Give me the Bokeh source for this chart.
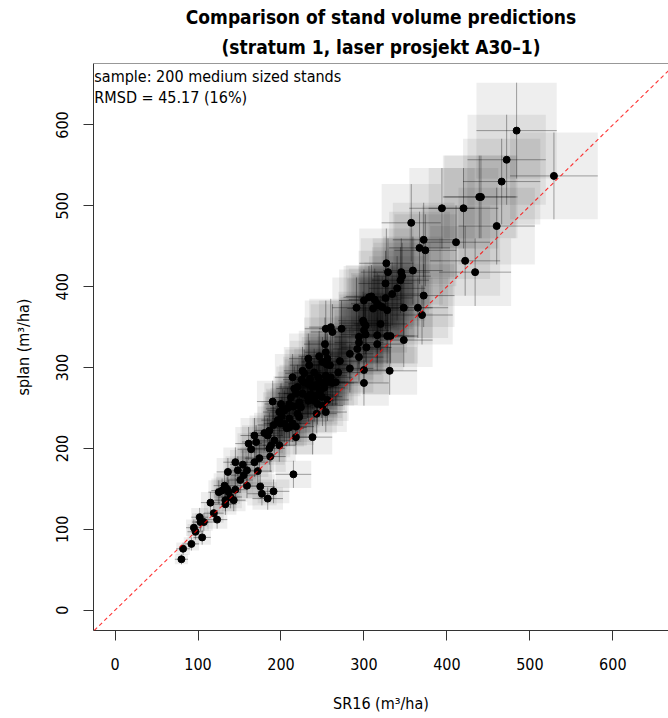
import numpy as np
from bokeh.plotting import figure
from bokeh.models import Range1d, FixedTicker, Slope, Label, Span, Title
from bokeh.embed import file_html
from bokeh.resources import INLINE

# SR16 volume (m3/ha) and splan volume (m3/ha) per stand
sr16 = [484, 529, 472, 466, 439, 441, 394, 420, 357, 460, 411, 372, 367, 374, 422, 434, 359, 327, 329, 345,
        344, 346, 326, 340, 334, 326, 372, 348, 365, 322,
        300, 306, 309, 291, 311, 318, 328, 370, 299, 300, 320, 260, 254, 273,
        313, 316, 302, 300, 262, 294, 302, 316, 328, 332, 348, 294, 292, 303, 316, 283, 294, 253, 246, 254,
        256, 255, 271, 259, 233, 234, 226, 228, 283, 300, 331, 300, 269, 254, 260, 256, 262, 245, 246, 243,
        235, 232, 238, 225, 227, 214, 216, 220, 218, 226, 232, 236, 244, 247, 233, 240, 250, 254, 243, 212,
        210, 215, 208, 204, 222, 224, 220, 222, 200, 202, 198, 201, 196, 199, 190, 210, 214, 210, 204, 207,
        191, 186, 180, 184, 168, 218, 238,
        250, 266, 249, 256,
        192, 188, 198, 170, 161, 164, 186, 187, 174, 168, 145, 154, 148, 159, 155, 172, 136, 151, 159, 175,
        191, 177, 184, 132, 135, 129, 137, 125, 145, 139, 143, 133, 115, 133,
        119, 123, 102, 103, 107, 95, 97, 105, 92, 82, 80,
        215, 218, 244, 240, 252, 252]
splan = [593, 537, 557, 530, 511, 511, 497, 497, 479, 475, 455, 458, 448, 445, 432, 418, 420, 429, 418, 418,
         408, 413, 404, 398, 391, 386, 389, 374, 374, 375,
         383, 387, 388, 374, 373, 377, 371, 365, 358, 355, 354, 350, 348, 348,
         384, 379, 352, 346, 344, 338, 341, 340, 339, 339, 334, 331, 323, 325, 329, 317, 313, 329, 314, 319,
         311, 304, 308, 303, 311, 303, 296, 293, 299, 297, 296, 281, 294, 290, 288, 282, 281, 288, 282, 276,
         286, 280, 276, 285, 282, 288, 274, 276, 268, 268, 264, 267, 266, 270, 259, 259, 253, 245, 243, 263,
         255, 252, 250, 247, 257, 251, 243, 239, 255, 249, 245, 240, 235, 231, 258, 237, 231, 226, 231, 225,
         229, 222, 219, 216, 216, 214, 214,
         307, 282, 264, 260,
         210, 204, 204, 208, 206, 199, 200, 190, 188, 183, 183, 180, 173, 173, 167, 172, 171, 161, 154, 153,
         147, 144, 138, 154, 150, 148, 146, 146, 149, 140, 136, 136, 133, 131,
         120, 112, 115, 109, 109, 102, 97, 90, 82, 76, 63,
         168, 227, 255, 294, 282, 275]

x_ticks = [0, 100, 200, 300, 400, 500, 600]
y_ticks = [0, 100, 200, 300, 400, 500, 600]
rel_err = 0.10

title_line1 = "Comparison of stand volume predictions"
title_line2 = "(stratum 1, laser prosjekt A30\u20131)"
note1 = "sample: 200 medium sized stands"
note2 = "RMSD = 45.17 (16%)"
x_label = "SR16 (m\u00b3/ha)"
y_label = "splan (m\u00b3/ha)"

FONT = "DejaVu Sans Condensed"

xv = np.array(sr16, dtype=float)
yv = np.array(splan, dtype=float)

p = figure(width=668, height=718, output_backend="svg", toolbar_location=None,
           x_range=Range1d(-26, 667.1), y_range=Range1d(-25.1, 676),
           min_border_left=93, min_border_right=0, min_border_top=63, min_border_bottom=88)
p.outline_line_color = None
p.xgrid.visible = False
p.ygrid.visible = False
p.background_fill_color = "white"

# title (two centred lines): the figure's own title is the upper line
p.title.text = title_line1
p.title.align = "center"
p.title.text_font = FONT
p.title.text_font_size = "19px"
p.title.text_font_style = "bold"
p.title.text_color = "black"
p.title.standoff = 2
p.add_layout(Title(text=title_line2, align="center", text_font=FONT, text_font_size="19px",
                   text_font_style="bold", text_color="black", standoff=11), "above")

# error boxes
p.quad(left=xv * (1 - rel_err), right=xv * (1 + rel_err),
       bottom=yv * (1 - rel_err), top=yv * (1 + rel_err),
       fill_color="black", fill_alpha=0.065, line_color=None)
# cross hairs
p.segment(x0=xv * (1 - rel_err), x1=xv * (1 + rel_err), y0=yv, y1=yv,
          line_color="black", line_alpha=0.35, line_width=1)
p.segment(x0=xv, x1=xv, y0=yv * (1 - rel_err), y1=yv * (1 + rel_err),
          line_color="black", line_alpha=0.35, line_width=1)
# points
p.scatter(xv, yv, size=7, fill_color="black", line_color="black")
# 1:1 line
p.add_layout(Slope(gradient=1, y_intercept=0, line_color="red", line_alpha=0.8,
                   line_dash="4 3", line_width=1.1))
# top border of the box
p.add_layout(Span(location=676, dimension="width", line_color="#333333", line_width=1))

# notes
p.add_layout(Label(x=-25, y=672, text=note1, text_font=FONT, text_font_size="16px",
                   text_baseline="top", text_align="left", text_color="black"))
p.add_layout(Label(x=-25, y=646, text=note2, text_font=FONT, text_font_size="16px",
                   text_baseline="top", text_align="left", text_color="black"))

for ax in (p.xaxis[0], p.yaxis[0]):
    ax.axis_line_color = "#333333"
    ax.major_tick_line_color = "#333333"
    ax.major_tick_out = 10
    ax.major_tick_in = 0
    ax.minor_tick_line_color = None
    ax.major_label_text_font = FONT
    ax.major_label_text_font_size = "16px"
    ax.major_label_text_color = "black"
    ax.axis_label_text_font = FONT
    ax.axis_label_text_font_size = "16px"
    ax.axis_label_text_font_style = "normal"
    ax.axis_label_text_color = "black"

p.xaxis[0].ticker = FixedTicker(ticks=x_ticks)
p.yaxis[0].ticker = FixedTicker(ticks=y_ticks)
p.xaxis[0].axis_label = x_label
p.yaxis[0].axis_label = y_label
p.xaxis[0].major_label_standoff = 17
p.xaxis[0].axis_label_standoff = 21
p.yaxis[0].major_label_orientation = "vertical"
p.yaxis[0].major_label_standoff = 15
p.yaxis[0].axis_label_standoff = 21

open("out.html", "w").write(file_html(p, INLINE))
